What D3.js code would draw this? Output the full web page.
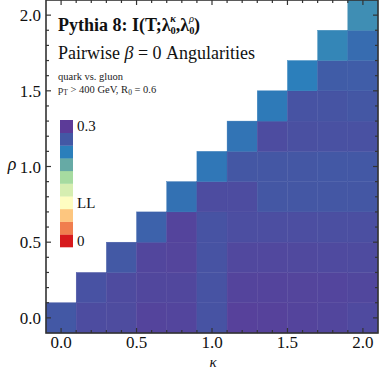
<!DOCTYPE html>
<html>
<head>
<meta charset="utf-8">
<script src="https://cdn.jsdelivr.net/npm/d3@7"></script>
<style>
  body { margin: 0; background: #fff; }
</style>
</head>
<body>
<svg id="chart" width="382" height="382"></svg>
<script>
// grid axes (kappa columns, rho rows)
const kappas = [0, 0.2, 0.4, 0.6, 0.8, 1.0, 1.2, 1.4, 1.6, 1.8, 2.0];
const rhos = [0, 0.2, 0.4, 0.6, 0.8, 1.0, 1.2, 1.4, 1.6, 1.8, 2.0];
// mutual information, rows = rho index, each row starts at kappa index == rho index
const row0 = [0.267, 0.280, 0.281, 0.290, 0.288, 0.272, 0.293, 0.292, 0.290, 0.287, 0.283];
const row1 = [0.273, 0.282, 0.286, 0.286, 0.272, 0.290, 0.290, 0.289, 0.288, 0.286];
const row2 = [0.266, 0.287, 0.289, 0.272, 0.285, 0.285, 0.284, 0.283, 0.282];
const row3 = [0.258, 0.290, 0.272, 0.278, 0.278, 0.278, 0.277, 0.277];
const row4 = [0.245, 0.280, 0.280, 0.268, 0.268, 0.268, 0.268];
const row5 = [0.240, 0.268, 0.268, 0.268, 0.267, 0.267];
const row6 = [0.243, 0.280, 0.276, 0.275, 0.275];
const row7 = [0.238, 0.272, 0.271, 0.268];
const row8 = [0.233, 0.263, 0.262];
const row9 = [0.228, 0.250];
const row10 = [0.222];
const rows = [row0, row1, row2, row3, row4, row5, row6, row7, row8, row9, row10];

// legend swatches, bottom (0) to top (0.3)
const legendColors = ["#d7191c", "#f07e4e", "#fdc67f", "#fefdc1", "#d6eeb1",
                      "#a6dba0", "#66aaa5", "#2b7fbb", "#4358a5", "#5c3b98"];
const legendLabels = [{ i: 9, t: "0.3" }, { i: 3, t: "LL" }, { i: 0, t: "0" }];

const xTicks = [0, 0.5, 1.0, 1.5, 2.0];
const yTicks = [0, 0.5, 1.0, 1.5, 2.0];

const FONT = "Liberation Serif";

const cells = [];
rows.forEach((vals, r) => {
  vals.forEach((v, j) => cells.push({ kappa: kappas[r + j], rho: rhos[r], value: v }));
});

const svg = d3.select("#chart");
const margin = { left: 46, right: 4, top: 0, bottom: 49 };
const W = 382, H = 382;

const x = d3.scaleLinear().domain([-0.1, 2.1]).range([margin.left, W - margin.right]);
const y = d3.scaleLinear().domain([-0.1, 2.1]).range([H - margin.bottom, margin.top]);
const color = d3.scaleLinear()
  .domain(d3.range(10).map(i => i * 0.3 / 9))
  .range(legendColors)
  .clamp(true);

const txt = (sel) => sel.style("font-family", FONT).attr("fill", "#111");

// cells
svg.append("g").selectAll("rect")
  .data(cells)
  .join("rect")
    .attr("x", d => x(d.kappa - 0.1))
    .attr("y", d => y(d.rho + 0.1))
    .attr("width", x(0.2) - x(0))
    .attr("height", y(0) - y(0.2))
    .attr("fill", d => color(d.value))
    .attr("stroke", d => color(d.value))
    .attr("stroke-width", 0.4);

// frame and ticks (inward, on all four sides)
const frame = svg.append("g").attr("stroke", "#333");
const minor = d3.range(0, 21).map(i => i / 10);
const majorLen = 5, minorLen = 3;
const isMajor = v => Math.abs(v * 2 - Math.round(v * 2)) < 1e-6;
minor.forEach(v => {
  const len = isMajor(v) ? majorLen : minorLen;
  frame.append("line").attr("x1", x(v)).attr("x2", x(v))
    .attr("y1", y(-0.1)).attr("y2", y(-0.1) - len).attr("stroke-width", 1.2);
  frame.append("line").attr("x1", x(v)).attr("x2", x(v))
    .attr("y1", y(2.1)).attr("y2", y(2.1) + len).attr("stroke-width", 1.2);
  frame.append("line").attr("y1", y(v)).attr("y2", y(v))
    .attr("x1", x(-0.1)).attr("x2", x(-0.1) + len).attr("stroke-width", 1.2);
  frame.append("line").attr("y1", y(v)).attr("y2", y(v))
    .attr("x1", x(2.1)).attr("x2", x(2.1) - len).attr("stroke-width", 1.2);
});
frame.append("rect")
  .attr("x", x(-0.1)).attr("y", y(2.1))
  .attr("width", x(2.1) - x(-0.1)).attr("height", y(-0.1) - y(2.1))
  .attr("fill", "none").attr("stroke-width", 1.6);

// tick labels
svg.append("g").selectAll("text")
  .data(xTicks)
  .join("text")
    .call(txt)
    .attr("x", d => x(d))
    .attr("y", y(-0.1) + 15)
    .attr("text-anchor", "middle")
    .style("font-size", "17px")
    .text(d => d3.format(".1f")(d));
svg.append("g").selectAll("text")
  .data(yTicks)
  .join("text")
    .call(txt)
    .attr("x", x(-0.1) - 5)
    .attr("y", d => y(d) + 6)
    .attr("text-anchor", "end")
    .style("font-size", "17px")
    .text(d => d3.format(".1f")(d));

// axis labels
svg.append("text").call(txt).attr("x", 213).attr("y", 367).attr("text-anchor", "middle")
  .style("font-size", "15px").style("font-style", "italic").text("κ");
svg.append("text").call(txt).attr("x", 12).attr("y", 170).attr("text-anchor", "middle")
  .style("font-size", "18px").style("font-style", "italic").text("ρ");

// title, with stacked sub/superscripts on the lambdas
const title = svg.append("text").call(txt).attr("x", 58).attr("y", 31)
  .style("font-size", "18px").style("font-weight", "bold");
title.append("tspan").text("Pythia 8: I(T;λ");
title.append("tspan").attr("dy", 3).style("font-size", "10.5px").text("0");
title.append("tspan").attr("dx", -5.5).attr("dy", -12).style("font-size", "10.5px")
  .style("font-style", "italic").text("κ");
title.append("tspan").attr("dy", 9).text(",λ");
title.append("tspan").attr("dy", 3).style("font-size", "10.5px").text("0");
title.append("tspan").attr("dx", -5.5).attr("dy", -12).style("font-size", "10.5px")
  .style("font-style", "italic").style("font-weight", "normal").text("ρ");
title.append("tspan").attr("dy", 9).text(")");

const sub = svg.append("text").call(txt).attr("x", 58).attr("y", 59).style("font-size", "18px");
sub.append("tspan").text("Pairwise ");
sub.append("tspan").style("font-style", "italic").text("β");
sub.append("tspan").text(" = 0 Angularities");

svg.append("text").call(txt).attr("x", 58).attr("y", 80).style("font-size", "10.5px")
  .attr("fill", "#222").text("quark vs. gluon");
const cuts = svg.append("text").call(txt).attr("x", 58).attr("y", 93).style("font-size", "10.5px")
  .attr("fill", "#222");
cuts.append("tspan").text("p");
cuts.append("tspan").attr("dy", 2).style("font-size", "7.5px").text("T");
cuts.append("tspan").attr("dy", -2).text(" > 400 GeV, R");
cuts.append("tspan").attr("dy", 2).style("font-size", "7.5px").text("0");
cuts.append("tspan").attr("dy", -2).text(" = 0.6");

// legend
const legTop = 120, legH = 12.7, legX = 60, legW = 13;
const leg = svg.append("g");
leg.selectAll("rect")
  .data(legendColors)
  .join("rect")
    .attr("x", legX)
    .attr("y", (d, i) => legTop + (9 - i) * legH)
    .attr("width", legW)
    .attr("height", legH + 0.3)
    .attr("fill", d => d);
leg.selectAll("text")
  .data(legendLabels)
  .join("text")
    .call(txt)
    .attr("x", legX + legW + 4)
    .attr("y", d => legTop + (9 - d.i) * legH + legH / 2 + 5)
    .style("font-size", "15px")
    .text(d => d.t);
</script>
</body>
</html>
